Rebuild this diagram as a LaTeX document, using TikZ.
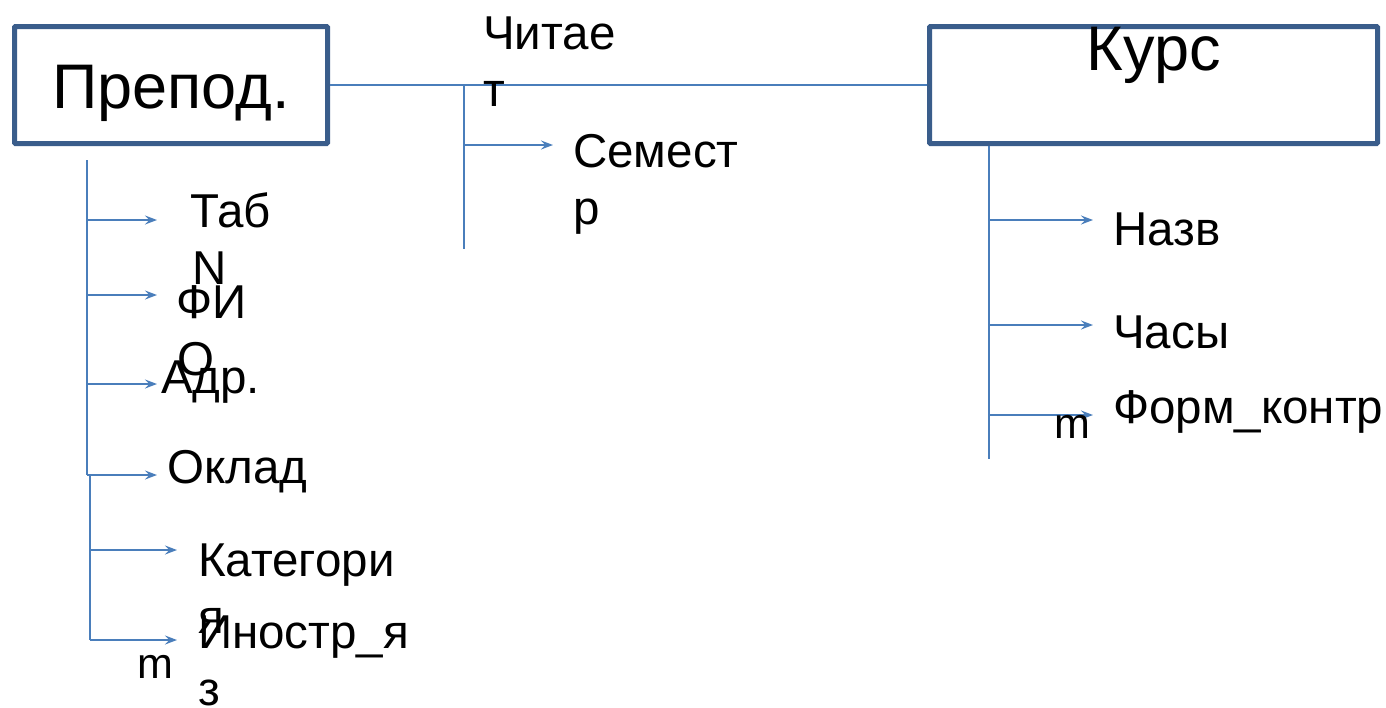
\documentclass[tikz,border=0pt]{standalone}
\usepackage{fontspec}
\setmainfont{Liberation Sans}
\usetikzlibrary{arrows.meta}
\definecolor{boxc}{HTML}{3A5D8B}
\definecolor{linec}{HTML}{4A7EBB}
\begin{document}
\begin{tikzpicture}[x=1pt,y=-1pt,
  entity/.style={draw=boxc, line width=5pt, rounded corners=1pt, inner sep=0pt,
    minimum height=117pt, font=\fontsize{63}{72}\selectfont},
  conn/.style={draw=linec, line width=1.8pt},
  arr/.style={conn, -{Stealth[length=12pt,width=9pt,inset=4.5pt]}},
  lbl/.style={inner sep=0pt, anchor=base west, align=left, font=\fontsize{47.5}{57}\selectfont},
  card/.style={inner sep=0pt, anchor=base west, font=\fontsize{43}{48}\selectfont}]
\clip (0,0) rectangle (1386,707);
\fill[white] (0,0) rectangle (1386,707);
% entities
\node[entity, minimum width=313pt, text height=46pt, text depth=0pt] (prep) at (171,85) {Препод.};
\node[entity, minimum width=448pt, text height=0pt, text depth=30pt] (kurs) at (1153.5,85) {Курс};
% relationship
\draw[conn] (prep.east) -- (kurs.west);
\coordinate (rtop) at (464,85);
\coordinate (rbot) at (464,249);
\coordinate (rs) at (464,145);
\coordinate (rse) at (553,145);
\draw[conn] (rtop) -- (rbot);
\draw[arr] (rs) -- (rse);
\node[lbl] (chit) at (483,106) {Читае\\т};
\node[lbl] (sem) at (573,224) {Семест\\р};
% teacher attributes
\coordinate (ptop) at (87,160);
\coordinate (pmid) at (87,475);
\coordinate (pmid2) at (90,475);
\foreach \n/\y in {a/220,b/295,c/384,d/475}{
  \coordinate (ps\n) at (87,\y);
  \coordinate (pe\n) at (157,\y);
}
\coordinate (pse) at (90,550);
\coordinate (pee) at (177,550);
\coordinate (psf) at (90,640);
\coordinate (pef) at (177,640);
\draw[conn] (ptop) -- (pmid);
\draw[conn] (pmid2) -- (psf);
\foreach \n in {a,b,c,d,e,f}{\draw[arr] (ps\n) -- (pe\n);}
\node[lbl] (tab) at (190,284) {Таб\\\hspace*{2pt}N};
\node[lbl] (fio) at (176,375) {ФИ\\\hspace*{1pt}О};
\node[lbl] (adr) at (161,393) {Адр.};
\node[lbl] (okl) at (167,483) {Оклад};
\node[lbl] (kat) at (198,633) {Категори\\я};
\node[lbl] (ino) at (198,705) {Иностр\_я\\з};
\node[card] (m1) at (137,678) {m};
% course attributes
\coordinate (ktop) at (989,146);
\coordinate (kbot) at (989,459);
\draw[conn] (ktop) -- (kbot);
\foreach \n/\y in {a/220,b/325,c/415}{
  \coordinate (ks\n) at (989,\y);
  \coordinate (ke\n) at (1093,\y);
  \draw[arr] (ks\n) -- (ke\n);
}
\node[lbl] (nazv) at (1113,245) {Назв};
\node[lbl] (chas) at (1113,348) {Часы};
\node[lbl] (form) at (1113,423) {Форм\_контр};
\node[card] (m2) at (1054,438) {m};
\end{tikzpicture}
\end{document}
